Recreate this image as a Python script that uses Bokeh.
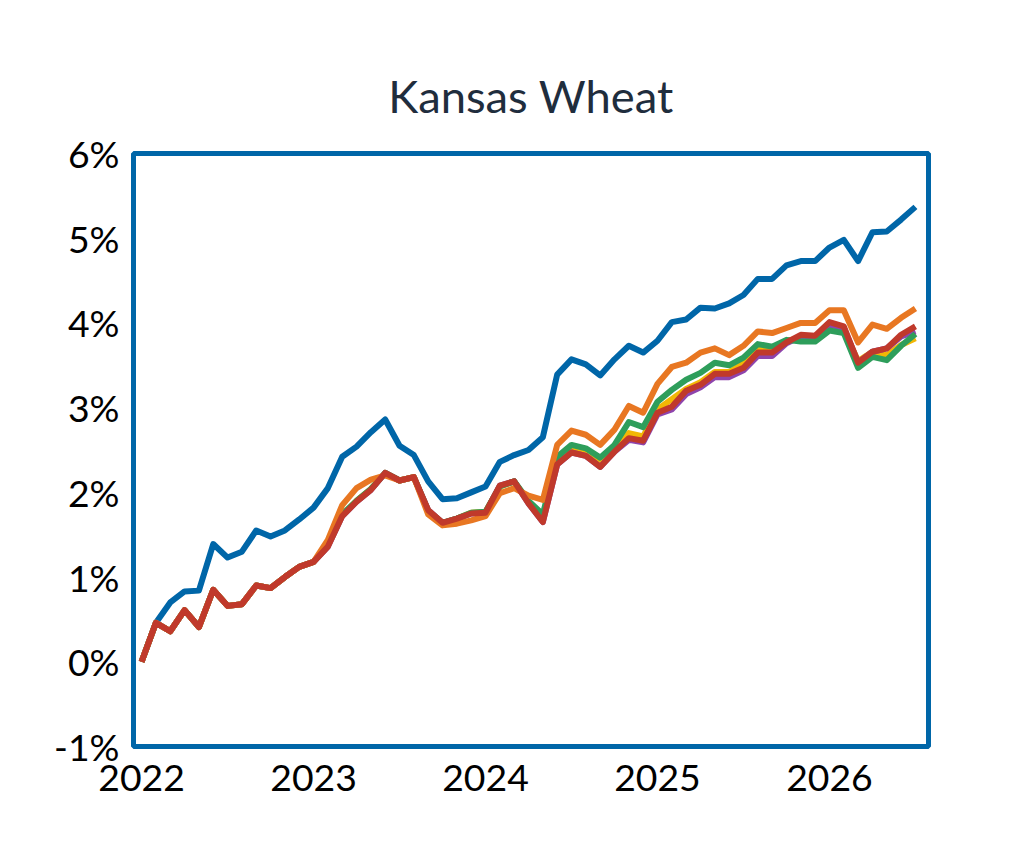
from bokeh.plotting import figure
from bokeh.embed import file_html
from bokeh.resources import INLINE
from bokeh.models import FixedTicker, Range1d, Title

title_text = "Kansas Wheat"
year_ticks = [2022, 2023, 2024, 2025, 2026]
pct_ticks = [-1, 0, 1, 2, 3, 4, 5, 6]

blue = [0.0, 0.46, 0.70, 0.83, 0.84, 1.39, 1.23, 1.30, 1.55, 1.48, 1.55, 1.68, 1.82, 2.05, 2.42, 2.54, 2.71, 2.86, 2.55, 2.44,
        2.13, 1.92, 1.93, 2.00, 2.07, 2.36, 2.44, 2.50, 2.65, 3.39, 3.57, 3.51, 3.38, 3.57, 3.73, 3.65, 3.79, 4.01, 4.04, 4.18,
        4.17, 4.23, 4.33, 4.52, 4.52, 4.68, 4.73, 4.73, 4.89, 4.98, 4.73, 5.07, 5.08, 5.22, 5.37]
orange = [0.0, 0.46, 0.36, 0.61, 0.41, 0.85, 0.66, 0.68, 0.90, 0.87, 1.00, 1.12, 1.18, 1.44, 1.85, 2.05, 2.15, 2.20, 2.14, 2.18,
          1.74, 1.61, 1.63, 1.67, 1.72, 1.99, 2.05, 1.96, 1.91, 2.56, 2.73, 2.68, 2.56, 2.74, 3.02, 2.94, 3.28, 3.48, 3.53, 3.65,
          3.70, 3.62, 3.73, 3.90, 3.88, 3.94, 4.00, 4.00, 4.15, 4.15, 3.77, 3.98, 3.93, 4.06, 4.17]
green = [0.0, 0.46, 0.36, 0.61, 0.41, 0.85, 0.66, 0.68, 0.90, 0.87, 1.00, 1.12, 1.18, 1.38, 1.74, 1.90, 2.04, 2.23, 2.14, 2.18,
         1.78, 1.64, 1.69, 1.76, 1.77, 2.07, 2.13, 1.90, 1.74, 2.42, 2.56, 2.52, 2.41, 2.56, 2.83, 2.77, 3.07, 3.21, 3.33, 3.41,
         3.53, 3.50, 3.59, 3.75, 3.72, 3.80, 3.78, 3.78, 3.91, 3.88, 3.47, 3.60, 3.56, 3.73, 3.87]
yellow = [0.0, 0.46, 0.36, 0.61, 0.41, 0.85, 0.66, 0.68, 0.90, 0.87, 1.00, 1.12, 1.18, 1.37, 1.73, 1.90, 2.04, 2.23, 2.14, 2.18,
          1.78, 1.64, 1.69, 1.76, 1.77, 2.07, 2.13, 1.88, 1.70, 2.38, 2.52, 2.48, 2.36, 2.52, 2.70, 2.66, 2.98, 3.10, 3.22, 3.30,
          3.42, 3.42, 3.52, 3.68, 3.68, 3.79, 3.82, 3.82, 3.97, 3.92, 3.55, 3.66, 3.62, 3.74, 3.82]
purple = [0.0, 0.46, 0.36, 0.61, 0.41, 0.85, 0.66, 0.68, 0.90, 0.87, 1.00, 1.12, 1.18, 1.36, 1.72, 1.89, 2.03, 2.23, 2.14, 2.18,
          1.79, 1.64, 1.69, 1.75, 1.76, 2.08, 2.13, 1.87, 1.65, 2.33, 2.47, 2.43, 2.30, 2.48, 2.62, 2.59, 2.92, 2.98, 3.16, 3.24,
          3.36, 3.36, 3.44, 3.61, 3.61, 3.76, 3.84, 3.83, 3.98, 3.94, 3.53, 3.66, 3.70, 3.84, 3.90]
red = [0.0, 0.46, 0.36, 0.61, 0.41, 0.85, 0.66, 0.68, 0.90, 0.87, 1.00, 1.12, 1.18, 1.36, 1.72, 1.89, 2.03, 2.23, 2.14, 2.18,
       1.79, 1.64, 1.69, 1.75, 1.76, 2.08, 2.13, 1.87, 1.65, 2.33, 2.47, 2.43, 2.30, 2.48, 2.64, 2.61, 2.94, 3.01, 3.20, 3.27,
       3.40, 3.40, 3.47, 3.65, 3.65, 3.77, 3.86, 3.85, 4.01, 3.96, 3.53, 3.66, 3.70, 3.86, 3.96]

x = [2022 + i / 12 for i in range(len(blue))]

p = figure(width=1000, height=831, output_backend="svg", toolbar_location=None,
           x_range=Range1d(2021.953, 2026.576), y_range=Range1d(-1, 6),
           min_border_left=133, min_border_right=72, min_border_top=153, min_border_bottom=85)
p.title = None
p.add_layout(Title(text=title_text, align="center", text_font="Lato", text_font_size="34pt",
                   text_font_style="normal", text_color="#1f2d3d", offset=0, standoff=62), "above")

series = [(blue, "#0066a8"), (yellow, "#f2b705"), (purple, "#8e44ad"), (green, "#2e9e5b"),
          (orange, "#e87722"), (red, "#c0392b")]
for ys, c in series:
    p.line(x, ys, line_color=c, line_width=6, line_join="round")

p.outline_line_color = "#0066a8"
p.outline_line_width = 5
p.grid.visible = False
for ax in (p.xaxis[0], p.yaxis[0]):
    ax.axis_line_color = None
    ax.major_tick_line_color = None
    ax.minor_tick_line_color = None
    ax.major_label_text_font = "Lato"
    ax.major_label_text_font_size = "28pt"
    ax.major_label_text_color = "black"
p.xaxis.ticker = FixedTicker(ticks=year_ticks)
p.xaxis.major_label_overrides = {t: str(t) for t in year_ticks}
p.yaxis.ticker = FixedTicker(ticks=pct_ticks)
p.yaxis.major_label_overrides = {t: f"{t}%" for t in pct_ticks}
p.xaxis.major_label_standoff = 12
p.yaxis.major_label_standoff = 8

open("out.html", "w").write(file_html(p, INLINE))
